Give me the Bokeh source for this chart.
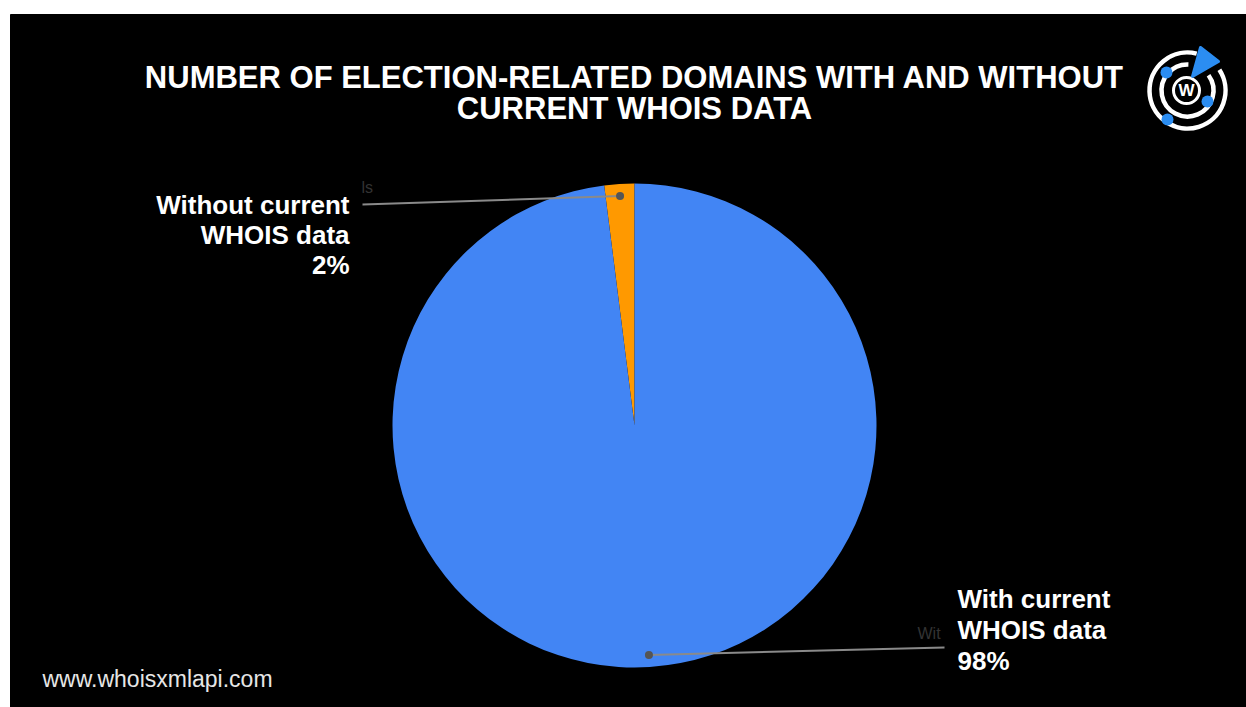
import math
from bokeh.plotting import figure
from bokeh.models import Range1d, ColumnDataSource
from bokeh.core.properties import value
from bokeh.embed import file_html
from bokeh.resources import INLINE

# ---------------- data ----------------
categories = ["Without current WHOIS data", "With current WHOIS data"]
shares = [2, 98]
slice_colors = ["#FF9900", "#4285F4"]
label_lines = [["Without current", "WHOIS data", "2%"],
               ["With current", "WHOIS data", "98%"]]
title_lines = ["NUMBER OF ELECTION-RELATED DOMAINS WITH AND WITHOUT",
               "CURRENT WHOIS DATA"]
footer_text = "www.whoisxmlapi.com"
ghost_texts = ["ls", "Wit"]

# ---------------- layout helpers (image px -> data units) ----------------
W, H = 1246, 707
TXT = 9  # text vertical correction
def X(ix):
    return ix
def Y(iy):
    return H - iy

FONT = value("Liberation Sans")

p = figure(width=W, height=H, x_range=Range1d(0, W), y_range=Range1d(0, H),
           output_backend="svg", toolbar_location=None, min_border=0)
p.axis.visible = False
p.grid.visible = False
p.outline_line_color = None
p.background_fill_color = "white"
p.border_fill_color = "white"

# black panel
p.quad(left=X(10), right=W, bottom=0, top=Y(14), color="black")

# ---------------- pie ----------------
cx, cy, R = X(634), Y(425), 242
total = sum(shares)
starts, ends, mids = [], [], []
a = math.pi / 2
for s in shares:
    sweep = 2 * math.pi * s / total
    starts.append(a)
    ends.append(a + sweep)
    mids.append(a + sweep / 2)
    a += sweep

src = ColumnDataSource(dict(start=starts, end=ends, color=slice_colors, cat=categories))
p.wedge(x=cx, y=cy, radius=R, start_angle="start", end_angle="end",
        color="color", line_color=None, source=src)

# leader lines
label_anchor = [(X(362), Y(204)), (X(944), Y(647))]
for m, (ax, ay) in zip(mids, label_anchor):
    dx = cx + 0.95 * R * math.cos(m)
    dy = cy + 0.95 * R * math.sin(m)
    p.line([dx, ax], [dy, ay], line_color="#8a8a8a", line_width=2)
    p.scatter([dx], [dy], size=8, fill_color="#555555", line_color=None)

# ghost texts (faint remnants)
p.text(x=[X(361), X(917)], y=[Y(196 - TXT), Y(642 - TXT)], text=ghost_texts,
       text_font=FONT, text_font_size="16px", text_color="#333333",
       text_baseline="alphabetic")

# labels
left_base = [213, 243, 273]
p.text(x=[X(349)] * 3, y=[Y(b - TXT) for b in left_base], text=label_lines[0],
       text_font=FONT, text_font_style="bold", text_font_size="26px",
       text_color="white", text_align="right", text_baseline="alphabetic")
right_base = [607, 638, 669]
p.text(x=[X(957)] * 3, y=[Y(b - TXT) for b in right_base], text=label_lines[1],
       text_font=FONT, text_font_style="bold", text_font_size="26px",
       text_color="white", text_align="left", text_baseline="alphabetic")

# title
p.text(x=[X(634)] * 2, y=[Y(86 - TXT), Y(117 - TXT)], text=title_lines,
       text_font=FONT, text_font_style="bold", text_font_size="31px",
       text_color="white", text_align="center", text_baseline="alphabetic")

# footer
p.text(x=[X(42)], y=[Y(686 - 8)], text=[footer_text], text_font=FONT,
       text_font_size="23px", text_color="#e6e6e6", text_baseline="alphabetic")

# ---------------- logo ----------------
lx, ly = X(1187), Y(90)
blue = "#2B8DF2"
deg = math.pi / 180
p.arc(x=lx, y=ly, radius=38, start_angle=76 * deg, end_angle=(360 + 33) * deg,
      line_color="white", line_width=4.5)
p.arc(x=lx, y=ly, radius=26, start_angle=88 * deg, end_angle=(360 + 36) * deg,
      line_color="white", line_width=4.5)
p.circle(x=lx - 1, y=ly, radius=13, fill_color=None, line_color="white", line_width=3)
p.text(x=[lx - 1], y=[ly], text=["W"], text_font=FONT, text_font_style="bold",
       text_font_size="17px", text_color="white", text_align="center",
       text_baseline="middle")
p.patch(x=[X(1200), X(1218), X(1192)], y=[Y(47), Y(61), Y(76)],
        fill_color=blue, line_color=blue, line_width=3, line_join="round")
p.circle(x=[X(1166), X(1207), X(1167)], y=[Y(72), Y(101), Y(119)], radius=6,
         fill_color=blue, line_color=None)

open("out.html", "w").write(file_html(p, INLINE))
